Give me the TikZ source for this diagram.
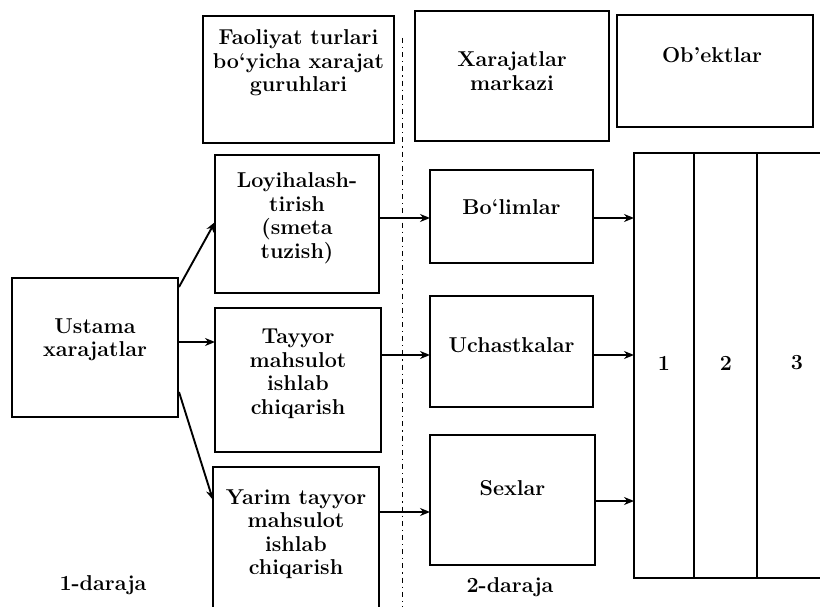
\documentclass[tikz,border=0pt]{standalone}
\usetikzlibrary{arrows.meta,calc}
\begin{document}
\begin{tikzpicture}[x=1pt,y=-1pt,
  box/.style={draw, line width=1.8pt, inner sep=0pt, outer sep=0pt},
  lbl/.style={align=center, inner sep=0pt, font=\fontsize{21.5}{23.5}\selectfont\bfseries},
  arr/.style={line width=1.9pt, -{Stealth[length=10pt,width=8pt]}},
  divline/.style={line width=0.9pt, dash pattern=on 5pt off 4pt on 1.2pt off 4pt}]
\useasboundingbox (0,0) rectangle (820,607);
\fill[white] (0,0) rectangle (820,607);
\clip (0,0) rectangle (820,607);
% top header boxes
\node[box, minimum width=191, minimum height=127] (fao) at (298.5,79.5) {};
\node[box, minimum width=194, minimum height=130] (mark) at (512,76) {};
\node[box, minimum width=196, minimum height=112] (obj) at (715,71) {};
\node[lbl] (faot) at (298.5,63) {Faoliyat turlari\\bo`yicha xarajat\\guruhlari};
\node[lbl] (markt) at (512,71) {Xarajatlar\\markazi};
\node[lbl] (objt) at (712,55) {Ob'ektlar};
% level 1
\node[box, minimum width=166, minimum height=139] (ust) at (95,347.5) {};
\node[lbl] (ustt) at (95,340) {Ustama\\xarajatlar};
\node[box, minimum width=164, minimum height=138] (loy) at (297,224) {};
\node[lbl] (loyt) at (297,218) {Loyihalash-\\tirish\\(smeta\\tuzish)};
\node[box, minimum width=166, minimum height=144] (tay) at (298,380) {};
\node[lbl] (tayt) at (298,374) {Tayyor\\mahsulot\\ishlab\\chiqarish};
\node[box, minimum width=166, minimum height=153] (yar) at (296,543.5) {};
\node[lbl] (yart) at (296,534) {Yarim tayyor\\mahsulot\\ishlab\\chiqarish};
% level 2
\node[box, minimum width=163, minimum height=93] (bol) at (511.5,216.5) {};
\node[lbl] (bolt) at (511.5,207) {Bo`limlar};
\node[box, minimum width=163, minimum height=111] (uch) at (511.5,351.5) {};
\node[lbl] (ucht) at (511.5,345) {Uchastkalar};
\node[box, minimum width=165, minimum height=130] (sex) at (512.5,500) {};
\node[lbl] (sext) at (512.5,488) {Sexlar};
% objects columns
\node[box, minimum width=60, minimum height=425] (c1) at (664,365.5) {};
\node[box, minimum width=63, minimum height=425] (c2) at (725.5,365.5) {};
\node[box, minimum width=83, minimum height=425] (c3) at (798.5,365.5) {};
\node[lbl] (n1) at (664,363) {1};
\node[lbl] (n2) at (726,363) {2};
\node[lbl] (n3) at (797,363) {3};
% level labels
\node[lbl] (d1) at (103,585) {1-daraja};
\node[lbl] (d2) at (510,587) {2-daraja};
% dividing line
\coordinate (dtop) at (402,38);
\coordinate (dbot) at (402,607);
\draw[divline] (dtop) -- (dbot);
% connectors
\draw[arr] ($(ust.north east)+(1,9)$) -- (loy.west |- 0,222);
\draw[arr] (ust.east |- 0,342) -- (tay.west |- 0,342);
\draw[arr] ($(ust.south east)+(1,-25)$) -- (yar.west |- 0,500);
\draw[arr] (loy.east |- 0,218) -- (bol.west |- 0,218);
\draw[arr] (tay.east |- 0,355) -- (uch.west |- 0,355);
\draw[arr] (yar.east |- 0,512) -- (sex.west |- 0,512);
\draw[arr] (bol.east |- 0,218) -- (c1.west |- 0,218);
\draw[arr] (uch.east |- 0,355) -- (c1.west |- 0,355);
\draw[arr] (sex.east |- 0,501) -- (c1.west |- 0,501);
\end{tikzpicture}
\end{document}
